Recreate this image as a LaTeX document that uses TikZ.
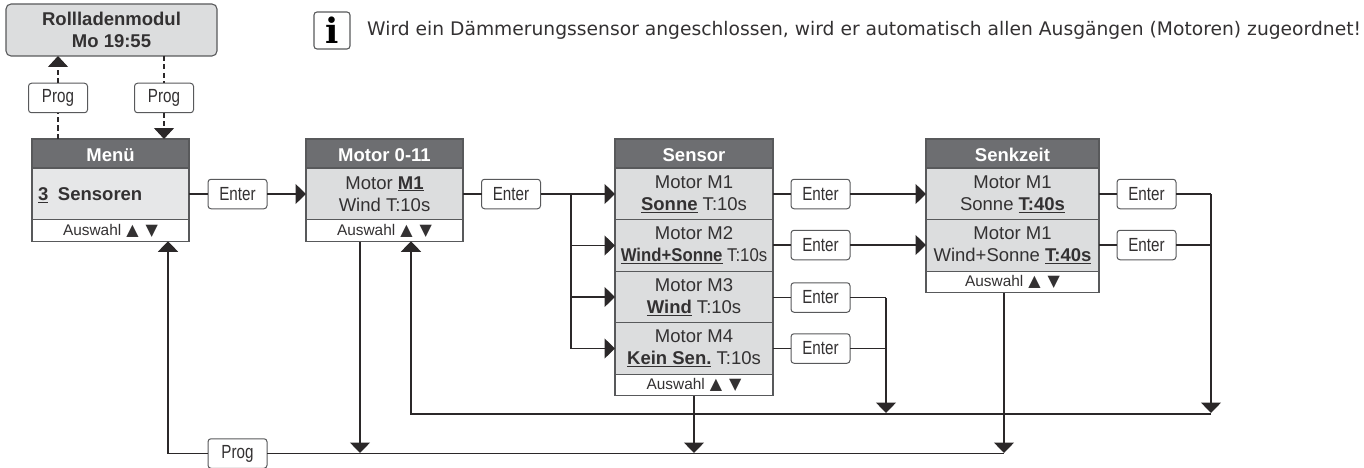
\documentclass[tikz,border=0pt]{standalone}
\usepackage{graphicx}
\usepackage{fontspec}
\setmainfont{Liberation Sans}
\newfontfamily\condfont[FakeStretch=0.8]{Liberation Sans}
\newfontfamily\notefont{DejaVu Sans}
\newfontfamily\iconfont{DejaVu Serif}
\newfontfamily\symfont{DejaVu Sans}
\usetikzlibrary{arrows.meta}
\definecolor{hdrc}{HTML}{6D6E71}
\definecolor{bodyc}{HTML}{DCDDDE}
\definecolor{menuc}{HTML}{E6E7E8}
\definecolor{linec}{HTML}{2B2829}
\definecolor{edgec}{HTML}{58595B}
\definecolor{txtc}{HTML}{333132}
\newcommand{\lab}{\fontsize{18.5}{22}\selectfont}
\newcommand{\sel}{Auswahl\hspace{5pt}{\symfont\fontsize{16}{15}\selectfont ▲\hspace{7pt}▼}}
\newcommand{\ul}[1]{\underline{\textbf{#1}}}
\newcommand{\lowerstrut}{\rule{0pt}{15.5pt}}
\tikzset{
  x=1pt,y=-1pt,
  panel/.style={draw=edgec,line width=1.1pt,inner sep=0pt,outer sep=0pt,text=txtc,align=center,font=\lab},
  hdr/.style={panel,fill=hdrc,text=white,minimum height=29pt,font=\lab\bfseries,execute at begin node=\lowerstrut},
  row/.style={panel,fill=bodyc,minimum height=51.5pt,execute at begin node=\lowerstrut},
  foot/.style={panel,fill=white,minimum height=21.5pt,font=\fontsize{15.4}{18}\selectfont},
  keybox/.style={draw=edgec,line width=1pt,rounded corners=3pt,fill=white,minimum width=59pt,minimum height=29.5pt,inner sep=0pt,outer sep=0pt,text=txtc,font=\condfont\fontsize{19}{22}\selectfont},
  flow/.style={draw=linec,line width=1.4pt},
  arrow/.style={flow,-{Triangle[length=10.5pt,width=20pt]}},
  dashflow/.style={flow,dash pattern=on 5pt off 3.5pt},
}
\begin{document}
\begin{tikzpicture}
\useasboundingbox (0,0) rectangle (1364,468);
% top box and note
\node[panel,fill=bodyc,rounded corners=5pt,minimum width=211pt,minimum height=52pt,font=\lab\bfseries,execute at begin node=\lowerstrut] (roll) at (111.5,30) {Rollladenmodul\\Mo 19:55};
\node[draw=edgec,line width=1.1pt,rounded corners=3pt,minimum width=36pt,minimum height=37pt,inner sep=0pt,font=\iconfont\bfseries\fontsize{35}{35}\selectfont] (info) at (332,30.5) {i};
\node[anchor=base west,inner sep=0pt,text=txtc,font=\notefont\fontsize{18.7}{22}\selectfont] (note) at (367,35.5) {Wird ein Dämmerungssensor angeschlossen, wird er automatisch allen Ausgängen (Motoren) zugeordnet!};
% Menue
\node[hdr,minimum width=157pt] (menuH) at (110.5,153.5) {Menü};
\node[row,fill=menuc,minimum width=157pt] (menuB) at (110.5,194) {};
\node[anchor=west,inner sep=0pt,text=txtc,font=\lab] (menuT) at (38,195) {\ul{3}\hspace{9.5pt}\textbf{Sensoren}};
\node[foot,minimum width=157pt] (menuF) at (110.5,230.5) {\sel};
% Motor
\node[hdr,minimum width=157pt] (motH) at (384.5,153.5) {Motor 0-11};
\node[row,minimum width=157pt] (motB) at (384.5,194) {Motor \ul{M1}\\Wind T:10s};
\node[foot,minimum width=157pt] (motF) at (384.5,230.5) {\sel};
% Sensor
\node[hdr,minimum width=158pt] (senH) at (694,153.5) {Sensor};
\node[row,minimum width=158pt] (sen1) at (694,194) {Motor M1\\\ul{Sonne} T:10s};
\node[row,minimum width=158pt] (sen2) at (694,245.5) {Motor M2\\\scalebox{0.905}[1]{\ul{Wind+Sonne} T:10s}};
\node[row,minimum width=158pt] (sen3) at (694,297) {Motor M3\\\ul{Wind} T:10s};
\node[row,minimum width=158pt] (sen4) at (694,348.5) {Motor M4\\\ul{Kein Sen.} T:10s};
\node[foot,minimum width=158pt] (senF) at (694,385) {\sel};
% Senkzeit
\node[hdr,minimum width=173pt] (sktH) at (1012.5,153.5) {Senkzeit};
\node[row,minimum width=173pt] (skt1) at (1012.5,194) {Motor M1\\Sonne \ul{T:40s}};
\node[row,minimum width=173pt] (skt2) at (1012.5,245.5) {Motor M1\\Wind+Sonne \ul{T:40s}};
\node[foot,minimum width=173pt] (sktF) at (1012.5,282) {\sel};
% key boxes
\node[keybox] (progA) at (58,98) {Prog};
\node[keybox] (progB) at (164,98) {Prog};
\node[keybox] (ent1) at (237.5,194) {Enter};
\node[keybox] (ent2) at (511,194) {Enter};
\node[keybox] (ent3) at (820.5,194) {Enter};
\node[keybox] (ent4) at (820.5,245) {Enter};
\node[keybox] (ent5) at (820.5,297.5) {Enter};
\node[keybox] (ent6) at (820.5,348.5) {Enter};
\node[keybox] (ent7) at (1146.5,194) {Enter};
\node[keybox] (ent8) at (1146.5,245) {Enter};
\node[keybox] (progC) at (237.5,453.5) {Prog};
% junctions
\coordinate (brS) at (571,194);
\coordinate (brR) at (886,297.5);
\coordinate (brT) at (1211,194);
\coordinate (busA) at (411,414);
\coordinate (busB) at (168,454);
\coordinate (tipA) at (886,413);
\coordinate (tipB) at (1211,413);
\coordinate (downM) at (360,241.5);
\coordinate (tipM) at (360,453);
\coordinate (tipS) at (694,453);
\coordinate (downK) at (1004,293);
\coordinate (tipK) at (1004,453);
% dashed links
\draw[dashflow] (progA.south |- menuH.north) -- (progA.south);
\draw[dashflow,-{Triangle[length=11pt,width=20pt]}] (progA.north) -- (progA.north |- roll.south);
\draw[dashflow] (progB.north |- roll.south) -- (progB.north);
\draw[dashflow,-{Triangle[length=11pt,width=20pt]}] (progB.south) -- (progB.south |- menuH.north);
% enter chain
\draw[flow] (menuB.east |- ent1.west) -- (ent1.west);
\draw[arrow] (ent1.east) -- (motB.west);
\draw[flow] (motB.east) -- (ent2.west);
\draw[arrow] (ent2.east) -- (sen1.west);
\draw[flow] (brS) -- (brS |- sen4.west);
\draw[arrow] (brS |- sen2.west) -- (sen2.west);
\draw[arrow] (brS |- sen3.west) -- (sen3.west);
\draw[arrow] (brS |- sen4.west) -- (sen4.west);
\draw[flow] (sen1.east) -- (ent3.west);
\draw[flow] (sen2.east |- ent4.west) -- (ent4.west);
\draw[flow] (sen3.east |- ent5.west) -- (ent5.west);
\draw[flow] (sen4.east) -- (ent6.west);
\draw[arrow] (ent3.east) -- (skt1.west);
\draw[arrow] (ent4.east) -- (skt2.west |- ent4.east);
\draw[flow] (ent5.east) -- (brR);
\draw[flow] (ent6.east) -- (brR |- ent6.east);
\draw[arrow] (brR) -- (tipA);
\draw[flow] (skt1.east) -- (ent7.west);
\draw[flow] (skt2.east |- ent8.west) -- (ent8.west);
\draw[flow] (ent7.east) -- (brT);
\draw[flow] (ent8.east) -- (brT |- ent8.east);
\draw[arrow] (brT) -- (tipB);
% return lines
\draw[arrow] (tipB |- busA) -- (busA) -- (busA |- motF.south);
\draw[arrow] (downM) -- (tipM);
\draw[arrow] (senF.south) -- (tipS);
\draw[arrow] (downK) -- (tipK);
\draw[flow] (progC.east) -- (tipK |- progC.east);
\draw[arrow] (progC.west) -- (busB |- progC.west) -- (busB |- menuF.south);
\end{tikzpicture}
\end{document}
